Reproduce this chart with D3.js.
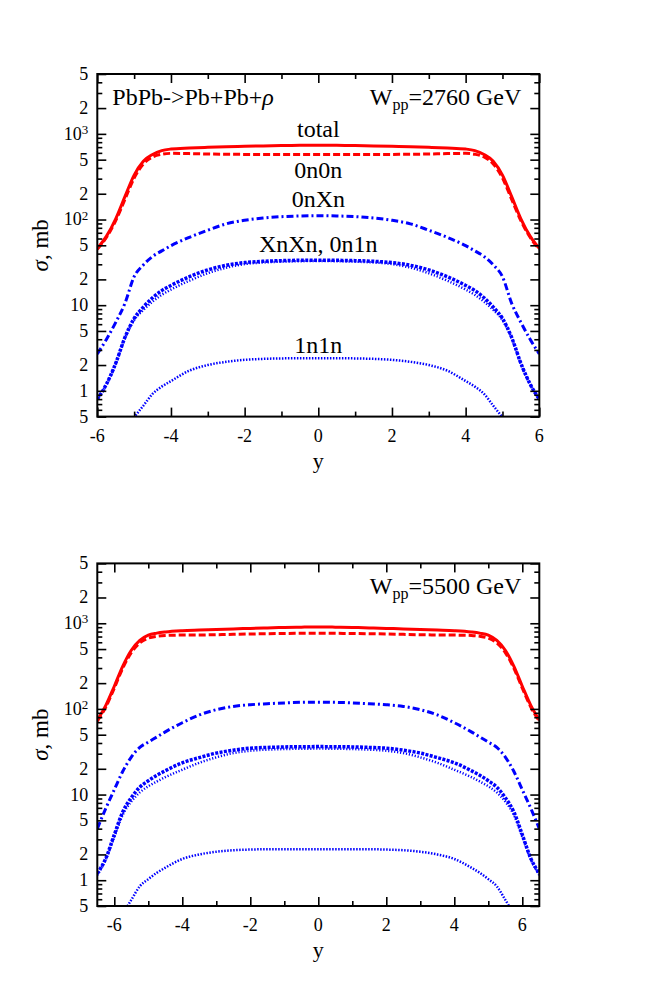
<!DOCTYPE html>
<html>
<head>
<meta charset="utf-8">
<script src="https://cdn.jsdelivr.net/npm/d3@7"></script>
<style>
body { margin: 0; background: #fff; }
svg text { font-family: "Liberation Serif", "DejaVu Serif", serif; fill: #000; }
</style>
</head>
<body>
<div id="chart"></div>
<script>
// rapidity grids
var rapTop = [-6,-5.75,-5.5,-5.25,-5,-4.75,-4.5,-4.25,-4,-3.5,-3,-2.5,-2,-1.5,-1,-0.5,0,
              0.5,1,1.5,2,2.5,3,3.5,4,4.25,4.5,4.75,5,5.25,5.5,5.75,6];
var rapBot = [-6.5,-6.25,-6,-5.75,-5.5,-5.25,-5,-4.75,-4.5,-4,-3.5,-3,-2.5,-2,-1.5,-1,-0.5,0,
              0.5,1,1.5,2,2.5,3,3.5,4,4.5,4.75,5,5.25,5.5,5.75,6,6.25,6.5];

// W_pp = 2760 GeV, dsigma/dy in mb
var totalTop   = [46,64,102,185,330,480,575,638,665,684,697,708,716,723,729,734,738,
                  734,729,723,716,708,697,684,665,638,575,480,330,185,102,64,46];
var zeroZeroTop = [45,62,97,172,305,445,537,578,592,588,582,578,576,575,575,575,575,
                   575,575,575,576,578,582,588,592,578,537,445,305,172,97,62,45];
var zeroXTop   = [2.7,4.0,6.3,10.5,21.5,29.5,37,43,49.5,62,75,89,98,104,108,110,111,
                  110,108,104,98,89,75,62,49.5,43,37,29.5,21.5,10.5,6.3,4.0,2.7];
var xnxnTop    = [0.8,1.2,2.1,4.2,7.0,9.5,12.2,14.8,17,21.5,25.8,29.2,31.4,32.5,33.1,33.4,33.5,
                  33.4,33.1,32.5,31.4,29.2,25.8,21.5,17,14.8,12.2,9.5,7.0,4.2,2.1,1.2,0.8];
var zeroOneTop = [0.8,1.18,2.05,4.1,6.7,8.8,11,13.2,15.2,19.3,23.6,27.4,30.2,31.5,32.2,32.6,32.8,
                  32.6,32.2,31.5,30.2,27.4,23.6,19.3,15.2,13.2,11,8.8,6.7,4.1,2.05,1.18,0.8];
var oneOneTop  = [0.11,0.16,0.24,0.35,0.49,0.67,0.92,1.12,1.3,1.72,2.0,2.18,2.3,2.36,2.39,2.4,2.4,
                  2.4,2.39,2.36,2.3,2.18,2.0,1.72,1.3,1.12,0.92,0.67,0.49,0.35,0.24,0.16,0.11];

// W_pp = 5500 GeV
var totalBot   = [74,110,184,316,484,631,728,767,791,818,832,845,859,871,883,893,901,906,
                  901,893,883,871,859,845,832,818,791,767,728,631,484,316,184,110,74];
var zeroZeroBot = [72,105,175,300,455,590,670,705,720,728,730,735,742,750,755,760,763,764,
                   763,760,755,750,742,735,730,728,720,705,670,590,455,300,175,105,72];
var zeroXBot   = [4.0,6.9,11.4,18.7,27.4,35.5,41,47,54,69,85,98,107,112,115,117.5,119.4,120,
                  119.4,117.5,115,112,107,98,85,69,54,47,41,35.5,27.4,18.7,11.4,6.9,4.0];
var xnxnBot    = [1.2,1.8,3.4,6.3,9.2,12.2,14.5,16.8,19,23.5,27,30.5,33,34.8,35.5,36,36.2,36.3,
                  36.2,36,35.5,34.8,33,30.5,27,23.5,19,16.8,14.5,12.2,9.2,6.3,3.4,1.8,1.2];
var zeroOneBot = [1.15,1.75,3.2,5.8,8.3,10.6,12.5,14.2,16,19.5,23.5,27.2,30.5,32.5,33.5,34,34.3,34.4,
                  34.3,34,33.5,32.5,30.5,27.2,23.5,19.5,16,14.2,12.5,10.6,8.3,5.8,3.2,1.75,1.15];
var oneOneBot  = [0.15,0.22,0.32,0.41,0.59,0.85,1.03,1.22,1.4,1.77,2.0,2.15,2.24,2.28,2.3,2.3,2.3,2.3,
                  2.3,2.3,2.3,2.28,2.24,2.15,2.0,1.77,1.4,1.22,1.03,0.85,0.59,0.41,0.32,0.22,0.15];

// axis ticks
var yMajor = [0.5,1,2,5,10,20,50,100,200,500,1000,2000,5000];
var yMajorLabels = [["5",""],["1",""],["2",""],["5",""],["10",""],["2",""],["5",""],
                    ["10","2"],["2",""],["5",""],["10","3"],["2",""],["5",""]];
var yMinor = [];
[0.1,1,10,100,1000].forEach(function(d) {
    [3,4,6,7,8,9].forEach(function(m) {
        var v = d * m;
        if (v > 0.5 && v < 5000) yMinor.push(v);
    });
});
var xMajor = [-6,-4,-2,0,2,4,6];
var xMinor = [-5,-3,-1,1,3,5];

var width = 654, height = 981;
var frameLeft = 97.3, frameRight = 539.3;
var serif = "Liberation Serif, DejaVu Serif, serif";

var svg = d3.select("#chart")
    .append("svg")
    .attr("width", width)
    .attr("height", height)
    .attr("font-family", serif);

var panels = [
    { id: "top", top: 74, bottom: 416.6, xDomain: [-6, 6], rap: rapTop,
      total: totalTop, zz: zeroZeroTop, zx: zeroXTop, xx: xnxnTop, zo: zeroOneTop, oo: oneOneTop,
      energy: "2760", process: true, curveLabels: true },
    { id: "bot", top: 563.4, bottom: 906, xDomain: [-6.5, 6.5], rap: rapBot,
      total: totalBot, zz: zeroZeroBot, zx: zeroXBot, xx: xnxnBot, zo: zeroOneBot, oo: oneOneBot,
      energy: "5500", process: false, curveLabels: false }
];

var styles = [
    { key: "total", color: "#ff0000", w: 3, dash: null },
    { key: "zz", color: "#ff0000", w: 3, dash: "7,3" },
    { key: "zx", color: "#0000ff", w: 3, dash: "7,3,2,3" },
    { key: "xx", color: "#0000ff", w: 3.5, dash: "3,1.4" },
    { key: "zo", color: "#0000ff", w: 2.5, dash: "1.2,1.8" },
    { key: "oo", color: "#0000ff", w: 2.5, dash: "1.5,1.5" }
];

panels.forEach(function(p) {
    var x = d3.scaleLinear().domain(p.xDomain).range([frameLeft, frameRight]);
    var y = d3.scaleLog().domain([0.5, 5000]).range([p.bottom, p.top]);
    var g = svg.append("g");

    svg.append("clipPath")
        .attr("id", "clip-" + p.id)
        .append("rect")
        .attr("x", frameLeft).attr("y", p.top)
        .attr("width", frameRight - frameLeft)
        .attr("height", p.bottom - p.top);

    var line = d3.line()
        .x(function(d) { return x(d[0]); })
        .y(function(d) { return y(d[1]); })
        .curve(d3.curveMonotoneX);

    styles.forEach(function(s) {
        var pts = p.rap.map(function(r, i) { return [r, p[s.key][i]]; });
        g.append("path")
            .datum(pts)
            .attr("clip-path", "url(#clip-" + p.id + ")")
            .attr("d", line)
            .attr("fill", "none")
            .attr("stroke", s.color)
            .attr("stroke-width", s.w)
            .attr("stroke-dasharray", s.dash);
    });

    // inward ticks on all four sides
    function yTicks(axisFn, tx, vals, size) {
        g.append("g")
            .attr("transform", "translate(" + tx + ",0)")
            .call(axisFn(y).tickValues(vals).tickSizeInner(size).tickSizeOuter(0).tickFormat(""))
            .call(function(a) { a.select(".domain").remove(); a.selectAll("line").attr("stroke-width", 1.6); });
    }
    function xTicks(axisFn, ty, vals, size) {
        g.append("g")
            .attr("transform", "translate(0," + ty + ")")
            .call(axisFn(x).tickValues(vals).tickSizeInner(size).tickSizeOuter(0).tickFormat(""))
            .call(function(a) { a.select(".domain").remove(); a.selectAll("line").attr("stroke-width", 1.6); });
    }
    yTicks(d3.axisLeft, frameLeft, yMajor, -9);
    yTicks(d3.axisLeft, frameLeft, yMinor, -5);
    yTicks(d3.axisRight, frameRight, yMajor, -9);
    yTicks(d3.axisRight, frameRight, yMinor, -5);
    xTicks(d3.axisBottom, p.bottom, xMajor, -9);
    xTicks(d3.axisBottom, p.bottom, xMinor, -5);
    xTicks(d3.axisTop, p.top, xMajor, -9);
    xTicks(d3.axisTop, p.top, xMinor, -5);

    g.append("rect")
        .attr("x", frameLeft).attr("y", p.top)
        .attr("width", frameRight - frameLeft)
        .attr("height", p.bottom - p.top)
        .attr("fill", "none")
        .attr("stroke", "#000")
        .attr("stroke-width", 2);

    // y tick labels
    yMajor.forEach(function(v, i) {
        var t = g.append("text")
            .attr("x", frameLeft - 9)
            .attr("y", y(v))
            .attr("dy", "0.33em")
            .attr("text-anchor", "end")
            .style("font-size", "18px")
            .text(yMajorLabels[i][0]);
        if (yMajorLabels[i][1]) {
            t.append("tspan")
                .attr("dy", "-0.45em")
                .style("font-size", "13px")
                .text(yMajorLabels[i][1]);
        }
    });

    // x tick labels
    xMajor.forEach(function(v) {
        g.append("text")
            .attr("x", x(v))
            .attr("y", p.bottom + 25)
            .attr("text-anchor", "middle")
            .style("font-size", "18px")
            .text(v);
    });

    g.append("text")
        .attr("x", x(0))
        .attr("y", p.bottom + 51)
        .attr("text-anchor", "middle")
        .style("font-size", "22px")
        .text("y");

    var ylab = g.append("text")
        .attr("transform", "translate(48," + ((p.top + p.bottom) / 2) + ") rotate(-90)")
        .attr("text-anchor", "middle")
        .style("font-size", "23px");
    ylab.append("tspan").style("font-style", "italic").text("σ");
    ylab.append("tspan").text(", mb");

    var w = g.append("text")
        .attr("x", frameRight - 18)
        .attr("y", p.top + 31)
        .attr("text-anchor", "end")
        .style("font-size", "24px");
    w.append("tspan").text("W");
    w.append("tspan").attr("dy", 5).style("font-size", "16px").text("pp");
    w.append("tspan").attr("dy", -5).text("=" + p.energy + " GeV");

    if (p.process) {
        var pr = g.append("text")
            .attr("x", frameLeft + 15)
            .attr("y", p.top + 31)
            .style("font-size", "24px");
        pr.append("tspan").text("PbPb->Pb+Pb+");
        pr.append("tspan").style("font-style", "italic").text("ρ");
    }

    if (p.curveLabels) {
        [["total", 137], ["0n0n", 178], ["0nXn", 207], ["XnXn, 0n1n", 252], ["1n1n", 353]]
            .forEach(function(l) {
                g.append("text")
                    .attr("x", x(0))
                    .attr("y", l[1])
                    .attr("text-anchor", "middle")
                    .style("font-size", "24px")
                    .text(l[0]);
            });
    }
});
</script>
</body>
</html>
